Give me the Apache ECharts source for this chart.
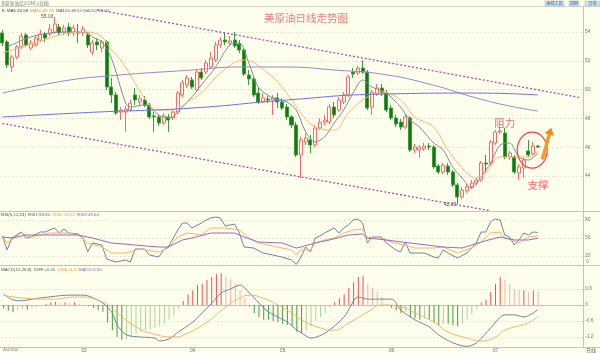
<!DOCTYPE html>
<html><head><meta charset="utf-8">
<script src="https://cdn.jsdelivr.net/npm/echarts@6/dist/echarts.min.js"></script>
<style>html,body{margin:0;padding:0;background:#fefeec}#c{width:600px;height:353px}</style>
</head><body><div id="c"></div>
<script>
const dates = [
'2017/02/03','2017/02/06','2017/02/07','2017/02/08','2017/02/09','2017/02/10','2017/02/13','2017/02/14','2017/02/15','2017/02/16','2017/02/17','2017/02/21','2017/02/22','2017/02/23','2017/02/24','2017/02/27','2017/02/28',
'2017/03/01','2017/03/02','2017/03/03','2017/03/06','2017/03/07','2017/03/08','2017/03/09','2017/03/10','2017/03/13','2017/03/14','2017/03/15','2017/03/16','2017/03/17','2017/03/20','2017/03/21','2017/03/22','2017/03/23','2017/03/24','2017/03/27','2017/03/28','2017/03/29','2017/03/30','2017/03/31',
'2017/04/03','2017/04/04','2017/04/05','2017/04/06','2017/04/07','2017/04/10','2017/04/11','2017/04/12','2017/04/13','2017/04/17','2017/04/18','2017/04/19','2017/04/20','2017/04/21','2017/04/24','2017/04/25','2017/04/26','2017/04/27','2017/04/28',
'2017/05/01','2017/05/02','2017/05/03','2017/05/04','2017/05/05','2017/05/08','2017/05/09','2017/05/10','2017/05/11','2017/05/12','2017/05/15','2017/05/16','2017/05/17','2017/05/18','2017/05/19','2017/05/22','2017/05/23','2017/05/24','2017/05/25','2017/05/26','2017/05/29','2017/05/30','2017/05/31',
'2017/06/01','2017/06/02','2017/06/05','2017/06/06','2017/06/07','2017/06/08','2017/06/09','2017/06/12','2017/06/13','2017/06/14','2017/06/15','2017/06/16','2017/06/19','2017/06/20','2017/06/21','2017/06/22','2017/06/23','2017/06/26','2017/06/27','2017/06/28','2017/06/29','2017/06/30',
'2017/07/03','2017/07/04','2017/07/05','2017/07/06','2017/07/07','2017/07/10','2017/07/11','2017/07/12','2017/07/13','2017/07/14'];
const futureSlots = ['2017/07/17','2017/07/18','2017/07/19','2017/07/20','2017/07/21','2017/07/24','2017/07/25','2017/07/26','2017/07/27'];
const monthLabels = ['2017/02','03','04','05','06','07'];

// [open, close, low, high]
const candles = [
[53.93,53.24,53.03,54.14],[53.31,51.71,51.50,53.44],[51.57,52.26,51.22,52.40],[52.26,52.96,52.12,53.10],[52.96,53.72,52.82,53.93],
[53.79,53.10,52.96,53.93],[52.89,53.24,52.75,53.44],[53.10,53.58,52.96,53.79],[53.44,53.86,53.31,54.14],[53.86,53.58,53.31,54.00],
[53.86,54.21,53.72,54.56],[54.00,54.56,53.86,55.03],[54.35,53.93,53.72,54.56],[54.00,54.28,53.79,54.49],[54.35,53.93,53.72,54.63],
[53.93,54.28,53.72,54.49],[54.00,53.93,53.24,54.56],[53.93,54.21,53.72,54.42],[53.79,53.10,52.89,54.00],[52.61,53.24,52.40,53.44],
[53.31,53.10,52.75,53.58],[52.89,53.31,52.61,53.44],[53.31,50.18,49.97,53.44],[50.18,49.63,49.07,50.81],[49.63,48.38,48.24,49.83],
[48.44,48.58,47.89,48.79],[48.44,48.65,47.06,48.86],[48.58,49.07,48.44,49.28],[49.63,49.28,48.93,50.11],[49.14,49.35,48.86,49.63],
[49.28,48.93,48.79,49.56],[48.93,48.10,47.96,49.07],[48.17,48.10,47.06,48.44],[48.10,47.68,47.47,48.24],[47.68,48.17,47.54,48.38],
[48.10,47.89,47.06,48.31],[48.03,48.44,47.89,48.58],[48.44,49.76,48.31,49.90],[49.63,50.46,49.49,50.67],[50.32,50.81,50.11,51.01],
[50.67,50.18,50.04,50.88],[49.97,51.22,49.83,51.36],[51.22,50.81,50.67,51.50],[51.22,51.85,51.08,52.06],[51.57,52.19,51.50,52.61],
[52.06,53.10,51.92,53.31],[53.10,53.44,52.89,53.65],[53.44,53.31,53.10,53.93],[53.24,53.38,53.03,53.72],[53.44,53.03,52.89,54.00],
[53.17,52.75,52.54,53.44],[52.75,51.08,50.94,52.89],[51.01,50.74,50.32,51.36],[50.74,49.63,49.49,50.88],[49.76,49.14,49.00,50.11],
[49.14,49.42,49.07,49.76],[49.35,49.28,49.07,49.56],[49.28,49.42,48.24,49.63],[49.42,49.14,48.72,49.76],[49.14,48.72,48.58,49.42],
[48.79,48.10,47.89,49.00],[48.10,47.54,47.33,48.24],[47.54,45.46,45.32,47.75],[45.46,46.50,43.86,46.72],[46.36,46.64,46.15,46.99],
[46.50,46.15,45.60,46.85],[46.15,47.33,46.01,47.54],[47.33,47.75,47.19,48.03],[47.75,47.89,47.54,48.24],[47.75,48.79,47.61,49.00],
[48.79,48.24,48.03,49.14],[48.58,49.28,48.44,49.49],[49.14,49.63,49.00,49.83],[49.63,50.88,49.49,51.01],[51.22,51.08,50.81,51.50],
[51.15,51.50,51.01,51.64],[51.50,51.22,51.08,52.06],[51.22,48.72,48.58,51.36],[48.79,49.83,48.24,49.97],[49.69,50.11,49.56,50.39],
[50.11,49.76,49.56,50.39],[49.76,48.58,48.44,49.97],[48.72,48.03,47.89,48.93],[48.03,47.61,47.40,48.24],[47.75,47.40,47.19,47.96],
[47.40,48.10,47.26,48.31],[48.03,45.81,45.67,48.17],[45.81,46.01,45.60,46.22],[45.81,46.01,45.25,46.15],[45.88,46.08,45.74,46.29],
[46.08,46.01,45.81,46.29],[46.01,44.63,44.49,46.15],[44.69,44.28,44.14,44.83],[44.28,44.76,44.14,44.90],[44.69,44.28,44.07,44.90],
[44.28,43.38,43.24,44.42],[43.38,42.54,42.05,43.51],[42.54,43.03,42.40,43.24],[42.96,43.24,42.82,43.44],[43.24,43.51,43.10,43.72],
[43.51,43.72,43.38,43.86],[43.72,44.90,43.58,45.04],[44.90,44.83,44.28,45.46],[44.90,46.36,44.76,46.50],[46.29,47.06,46.15,47.20],
[47.06,47.13,46.92,47.40],[46.99,45.32,45.18,47.33],[45.32,45.60,45.11,45.74],[45.32,44.28,44.14,45.46],[44.21,44.63,43.72,44.83],
[44.56,45.11,43.86,45.25],[45.74,45.46,45.32,46.50],[45.53,46.08,45.39,46.36],[46.08,46.01,45.94,46.15]];

const ma5 = [[1,52.96],[6,53.65],[10,53.93],[14,54.00],[18,53.93],[19,53.65],[21,53.31],[23,52.19],[26,49.07],[27,48.79],[30,48.93],[33,48.24],[35,48.03],[36,48.10],[38,48.79],[40,49.49],[42,50.32],[45,51.57],[48,53.10],[50,53.24],[52,51.85],[54,50.18],[57,49.42],[60,49.14],[62,48.58],[64,47.06],[66,46.36],[68,46.72],[70,47.68],[72,48.58],[74,49.76],[76,50.67],[78,50.18],[81,49.76],[84,48.79],[86,47.89],[88,47.40],[91,46.29],[93,45.81],[95,44.63],[97,43.86],[99,43.17],[101,43.93],[103,44.90],[105,46.15],[107,46.29],[109,45.32],[111,45.11],[113,45.58]];
const ma10 = [[0,52.54],[7,53.24],[14,53.93],[18,54.00],[21,53.65],[23,52.75],[25,52.06],[31,48.93],[33,48.58],[36,48.58],[39,49.14],[42,49.76],[46,51.15],[51,52.06],[56,51.15],[59,50.18],[63,48.38],[66,47.40],[70,47.19],[73,48.38],[77,49.49],[80,49.83],[84,49.28],[87,48.10],[91,47.40],[94,45.81],[98,44.21],[100,43.86],[102,44.21],[105,45.32],[108,45.32],[111,45.32],[113,45.73]];
const ma100 = [[0,49.76],[13,50.60],[22,50.94],[40,51.36],[50,51.57],[60,51.57],[70,51.36],[80,51.08],[90,50.39],[100,49.42],[107,48.86],[113,48.51]];
const ma200 = [[0,48.10],[20,48.44],[40,48.72],[60,49.28],[80,49.69],[100,49.76],[113,49.63]];
const upperTrend = [[20,55.55],[122,49.44]];
const lowerTrend = [[0,47.65],[103,41.58]];

const rsi1 = [[0,53.3],[1,30],[2,50],[4,60],[5,50],[6,51.7],[8,60],[9,60],[11,66.7],[12,58.3],[13,65],[14,58.3],[16,56.7],[17,50],[18,26.7],[19,41.7],[21,38.3],[22,15],[24,10],[26,13.3],[27,10],[28,31.7],[30,31.7],[31,21.7],[33,18.3],[34,30],[35,35],[37,63.3],[38,75],[39,75],[40,66.7],[42,75],[43,80],[44,83.3],[45,85],[46,83.3],[47,70],[48,71.7],[49,73],[50,58.3],[51,35],[53,33.3],[55,25],[57,21.7],[59,18.3],[61,13.3],[62,6],[63,18.3],[64,35],[65,26.7],[66,50],[67,53.3],[68,58.3],[70,66.7],[71,58.3],[72,66.7],[73,71.7],[74,80],[75,81.7],[76,75],[77,41.7],[78,51.7],[80,51.7],[81,41.7],[83,30],[84,26.7],[85,43.3],[86,25],[89,25],[91,18.3],[92,16.7],[93,30],[94,25],[96,16.7],[98,25],[99,33],[100,41.7],[101,60],[102,60],[103,76.7],[104,81.7],[105,80],[106,55],[107,51.7],[108,38.3],[109,46.7],[110,58.3],[111,55],[112,60],[113,59.2]];
const rsi2 = [[0,51.7],[1,41.7],[4,58.3],[6,51.7],[10,58.3],[14,58.3],[16,55],[18,41.7],[21,35],[23,25],[26,25],[29,31.7],[33,26.7],[35,33.3],[37,51.7],[39,58.3],[42,55],[44,66.7],[47,66.7],[50,63.3],[52,50],[54,41.7],[58,35],[61,30],[62,21.7],[63,30],[65,30],[66,41.7],[68,46.7],[70,50],[72,58.3],[74,63.3],[76,65],[77,50],[79,51.7],[82,43.3],[85,38.3],[87,33.3],[91,33.3],[93,35],[96,25],[99,33.3],[101,43.3],[103,58.3],[105,60],[106,50],[109,41.7],[111,51.7],[113,53.52]];
const rsi3 = [[0,51.7],[2,50],[5,55],[10,55],[16,55],[19,50],[23,41.7],[28,38.3],[33,35],[35,35],[38,46.7],[40,50],[44,58.3],[49,58.3],[51,51.7],[54,43.3],[59,41.7],[62,33.3],[63,35],[66,41.7],[69,46.7],[73,55],[76,56.7],[77,50],[81,46.7],[86,41.7],[93,35],[97,33.3],[101,43.3],[105,51.7],[108,46.7],[111,46.7],[113,49.64]];

const diff = [[0,0.41],[2,0.19],[4,0.16],[6,0.22],[10,0.31],[14,0.37],[17,0.37],[19,0.26],[21,0.07],[23,-0.30],[24,-0.75],[26,-1.12],[29,-1.20],[32,-1.24],[33,-1.35],[35,-1.27],[37,-1.01],[40,-0.64],[42,-0.30],[44,0.07],[46,0.45],[48,0.60],[50,0.75],[52,0.45],[54,0.07],[56,-0.26],[58,-0.45],[60,-0.64],[62,-0.94],[63,-1.05],[65,-1.24],[68,-1.05],[72,-0.45],[75,0.30],[77,0.22],[82,0.22],[84,-0.19],[87,-0.56],[90,-0.82],[92,-1.12],[95,-1.42],[98,-1.55],[100,-1.42],[103,-0.86],[106,-0.37],[108,-0.37],[110,-0.45],[112,-0.30],[113,-0.16]];
const dea = [[0,0.37],[4,0.26],[10,0.22],[16,0.30],[21,0.11],[24,-0.30],[28,-0.82],[31,-1.05],[36,-1.20],[39,-1.05],[43,-0.64],[47,-0.07],[50,0.26],[52,0.37],[55,0.25],[58,0.0],[61,-0.30],[63,-0.56],[67,-0.86],[70,-0.94],[73,-0.67],[77,-0.26],[80,0.0],[84,-0.07],[87,-0.30],[91,-0.64],[94,-1.01],[98,-1.24],[101,-1.35],[104,-1.20],[106,-0.94],[111,-0.67],[113,-0.41]];
const macdHist = [-0.12,-0.22,-0.26,-0.2,-0.15,-0.18,-0.12,-0.08,-0.03,0.05,0.1,0.12,0.08,0.1,0.08,0.1,0.05,0.02,-0.05,-0.1,-0.2,-0.25,-0.65,-0.95,-1.2,-1.3,-1.28,-1.2,-1.1,-1.0,-0.95,-0.9,-0.85,-0.8,-0.7,-0.55,-0.4,-0.15,0.15,0.4,0.55,0.75,0.8,0.95,1.05,1.15,1.2,1.1,0.95,0.8,0.55,0.25,-0.05,-0.3,-0.45,-0.55,-0.55,-0.6,-0.65,-0.7,-0.75,-0.8,-1.0,-1.05,-0.95,-0.8,-0.6,-0.45,-0.3,-0.1,0.1,0.25,0.4,0.65,0.85,1.05,1.1,0.8,0.65,0.5,0.3,0.05,-0.1,-0.2,-0.3,-0.25,-0.45,-0.5,-0.55,-0.5,-0.55,-0.65,-0.75,-0.7,-0.7,-0.75,-0.8,-0.7,-0.55,-0.35,-0.15,0.1,0.2,0.5,0.8,1.05,0.95,0.8,0.6,0.55,0.55,0.5,0.55,0.5];

const priceTicks = [44,46,48,50,52,54];
const rsiTicks = [20,50,80];
const macdTicks = [-1.2,-0.6,0,0.6];
const legendMain = [['K','#333'],['MA5:45.58','#444'],['MA10:45.73','#f08a2a'],['MA100:48.51','#7a3aa0'],['MA200:49.63','#6a6ae8']];
const legendRsi = [['RSI(6,12,24)','#555'],['RSI1:59.20','#4a5c70'],['RSI2:53.52','#f0a040'],['RSI3:49.64','#9a5cc8']];
const legendMacd = [['MACD(12,26,9)','#555'],['DIFF:-0.16','#4a5c70'],['DEA:-0.41','#f0a040'],['MACD:0.50','#9a5cc8']];
const resistAnchor = [106, 47.7];
const supportAnchor = [113, 43.4];
const circleAnchor = [112, 45.8];
const arrowTail = [114, 45.25];
const arrowHead = [116, 47.35];

const BG = '#fefeec';
const FONT = 'Noto Sans CJK SC';
const SMALL = 'Liberation Sans';
const categories = dates.concat(futureSlots);
const monthStart = categories.map((d,i)=> i < dates.length && (i===0 || d.slice(0,7)!==categories[i-1].slice(0,7)));

function yAx(g, min, max, ticks, fmt){
  return {type:'value', gridIndex:g, position:'right', min:min, max:max,
    axisLine:{show:true, lineStyle:{color:'#c4c4b8'}},
    axisTick:{show:false, customValues:ticks},
    axisLabel:{customValues:ticks, fontSize:5, color:'#777', margin:2, fontFamily:SMALL, formatter:fmt},
    splitLine:{show:true, lineStyle:{color:'#dcdccc', type:[2,2], width:0.8}}};
}
function xAx(g, show){
  return {type:'category', gridIndex:g, data:categories, boundaryGap:true,
    axisLine:{show:show, lineStyle:{color:'#c4c4b8'}}, axisTick:{show:false},
    axisLabel:{show:show, fontSize:4.6, color:'#666', margin:1, fontFamily:SMALL,
      interval:(i)=>monthStart[i],
      formatter:(v,i)=>{ const k = monthStart.slice(0,i+1).filter(Boolean).length-1; return k===0 ? '{a|'+monthLabels[0]+'}' : monthLabels[k]; },
      rich:{a:{fontSize:4.2, color:'#666', padding:[0,0,0,14], fontFamily:SMALL}}},
    splitLine:{show:false}};
}
function line(g, data, color, smooth, w){
  return {type:'line', xAxisIndex:g, yAxisIndex:g, data:data, smooth:smooth, symbol:'none',
    lineStyle:{color:color, width:w||1}, silent:true, z:3};
}

const option = {
  animation:false, backgroundColor:BG,
  grid:[{left:0, top:6, width:583, height:205},{left:0, top:211, width:583, height:54},{left:0, top:266, width:583, height:81}],
  xAxis:[xAx(0,false), xAx(1,false), xAx(2,true)],
  yAxis:[yAx(0,41.57,55.806,priceTicks,v=>String(v)), yAx(1,5,95,rsiTicks,v=>String(v)), yAx(2,-1.575,1.4625,macdTicks,v=>String(v))],
  series:[
    {type:'candlestick', xAxisIndex:0, yAxisIndex:0, data:candles, barWidth:'74%',
      itemStyle:{color:BG, borderColor:'#f26c6c', color0:'#0b7d0b', borderColor0:'#3d9a3d', borderWidth:1},
      markPoint:{symbol:'circle', symbolSize:0, silent:true,
        label:{show:true, position:'left', distance:1, fontSize:5, color:'#555', fontFamily:SMALL, formatter:p=>Number(p.value).toFixed(2)},
        data:[{type:'max', valueDim:'highest', label:{offset:[0,-1]}},{type:'min', valueDim:'lowest', label:{offset:[0,1]}}]}},
    line(0, ma5, '#7f8c99', 0.3),
    line(0, ma10, '#f7b77a', 0.4),
    line(0, ma100, '#9b86cc', 0.5),
    line(0, ma200, '#6e6ef0', 0.5),
    {type:'line', xAxisIndex:0, yAxisIndex:0, data:upperTrend, symbol:'none', lineStyle:{color:'#b04ab0', width:1.3, type:[2,2]}, silent:true, z:4},
    {type:'line', xAxisIndex:0, yAxisIndex:0, data:lowerTrend, symbol:'none', lineStyle:{color:'#b04ab0', width:1.3, type:[2,2]}, silent:true, z:4},
    line(1, rsi1, '#74859a', false),
    line(1, rsi2, '#f6b36a', false),
    line(1, rsi3, '#9a68cc', false),
    {type:'bar', xAxisIndex:2, yAxisIndex:2, data:macdHist, barWidth:1, silent:true,
      itemStyle:{color:p=>{const i=p.dataIndex, v=macdHist[i], pr=i>0?macdHist[i-1]:0;
        if(v>=0) return v>=pr?'#f25050':'#f7b0b0'; return v<=pr?'#3f9c3f':'#a9d59c';}}},
    line(2, diff, '#74859a', 0.3),
    line(2, dea, '#f6b36a', 0.5)
  ]
};

const chart = echarts.init(document.getElementById('c'));
chart.setOption(option);

function legendRow(items, xs, y){
  return items.map((it,k)=>({type:'text', x:xs[k], y:y, silent:true,
    style:{text:it[0], fill:it[1], fontSize:4.4, fontFamily:SMALL, verticalAlign:'middle'}}));
}
const px = p => chart.convertToPixel({gridIndex:0}, p);
const c0 = px(circleAnchor), t0 = px(arrowTail), h0 = px(arrowHead);
h0[0] -= 1;
const dx = h0[0]-t0[0], dy = h0[1]-t0[1], L = Math.hypot(dx,dy), ux = dx/L, uy = dy/L;
const base = [h0[0]-ux*7, h0[1]-uy*7];
const r0 = px(resistAnchor), s0 = px(supportAnchor);

const graphics = [
  {type:'line', shape:{x1:0,y1:6.5,x2:600,y2:6.5}, style:{stroke:'#d4d4c8', lineWidth:1}, silent:true},
  {type:'line', shape:{x1:0,y1:211.5,x2:600,y2:211.5}, style:{stroke:'#c4c4b8', lineWidth:1}, silent:true},
  {type:'line', shape:{x1:0,y1:265.5,x2:600,y2:265.5}, style:{stroke:'#c4c4b8', lineWidth:1}, silent:true},
  {type:'line', shape:{x1:0,y1:347.5,x2:600,y2:347.5}, style:{stroke:'#c4c4b8', lineWidth:1}, silent:true},
  {type:'text', x:1, y:3, silent:true, style:{text:'美原油 油品(CONC)(日线)', fill:'#777', fontSize:4.3, fontFamily:FONT, verticalAlign:'middle'}},
  {type:'rect', shape:{x:545,y:1,width:19,height:5}, style:{fill:'#cfe0ee', stroke:'#9ab8d0', lineWidth:0.5}, silent:true},
  {type:'text', x:554.5, y:3.6, silent:true, style:{text:'画线工具', fill:'#3b6c99', fontSize:4, fontFamily:FONT, align:'center', verticalAlign:'middle'}},
  {type:'rect', shape:{x:569,y:1,width:10,height:5}, style:{fill:'#cfe0ee', stroke:'#9ab8d0', lineWidth:0.5}, silent:true},
  {type:'text', x:574, y:3.6, silent:true, style:{text:'周期', fill:'#3b6c99', fontSize:4, fontFamily:FONT, align:'center', verticalAlign:'middle'}},
  {type:'rect', shape:{x:585,y:1,width:15,height:5}, style:{fill:'#cfe0ee', stroke:'#9ab8d0', lineWidth:0.5}, silent:true},
  {type:'text', x:592.5, y:3.6, silent:true, style:{text:'日线', fill:'#3b6c99', fontSize:4, fontFamily:FONT, align:'center', verticalAlign:'middle'}},
  {type:'text', x:306, y:18, silent:true, style:{text:'美原油日线走势图', fill:'#f27b7b', fontSize:10.5, fontFamily:FONT, align:'center', verticalAlign:'middle'}},
  {type:'text', x:586, y:262, silent:true, style:{text:'0', fill:'#888', fontSize:5, fontFamily:SMALL, verticalAlign:'middle'}},
  {type:'text', x:586, y:350, silent:true, style:{text:'日线', fill:'#666', fontSize:5, fontFamily:FONT, verticalAlign:'middle'}},
  {type:'ellipse', shape:{cx:c0[0]-1, cy:c0[1], rx:15, ry:18}, style:{fill:'none', stroke:'#f04444', lineWidth:1.2}, silent:true, z:10},
  {type:'line', shape:{x1:t0[0], y1:t0[1], x2:base[0], y2:base[1]}, style:{stroke:'#f39a2c', lineWidth:3.5, lineCap:'round'}, silent:true, z:10},
  {type:'polygon', shape:{points:[[h0[0],h0[1]],[base[0]-uy*5, base[1]+ux*5],[base[0]+uy*5, base[1]-ux*5]]}, style:{fill:'#f08a1c'}, silent:true, z:10},
  {type:'text', x:r0[0], y:r0[1], silent:true, z:10, style:{text:'阻力', fill:'#f26c6c', fontSize:10.5, fontFamily:FONT, align:'center', verticalAlign:'middle'}},
  {type:'text', x:s0[0], y:s0[1], silent:true, z:10, style:{text:'支撑', fill:'#f26c6c', fontSize:10.5, fontFamily:FONT, align:'center', verticalAlign:'middle'}}
].concat(legendRow(legendMain,[2,7,30,56,83],10.5))
 .concat(legendRow(legendRsi,[1,28,53,77],214.8))
 .concat(legendRow(legendMacd,[1,34,58,79],269.5));
chart.setOption({graphic:graphics});
</script>
</body></html>
